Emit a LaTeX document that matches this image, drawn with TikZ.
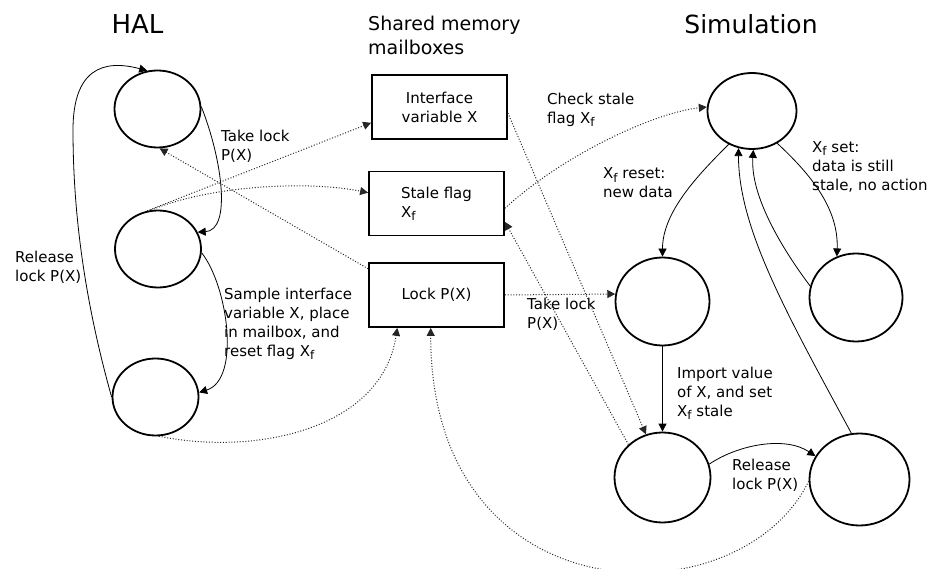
\documentclass[tikz,border=0pt]{standalone}
\usepackage{fontspec}
\setmainfont{DejaVu Sans}
\usetikzlibrary{arrows.meta,shapes.geometric}

\newcommand{\flagsub}{\raisebox{-0.4ex}{\fontsize{12}{12}\selectfont f}}

\begin{document}
\begin{tikzpicture}[x=1pt,y=-1pt,
    state/.style={draw,ellipse,line width=1.8pt,inner sep=0pt},
    mailbox/.style={draw,line width=1.8pt,minimum width=135pt,minimum height=64pt,inner sep=0pt,align=center,font=\fontsize{15}{19}\selectfont},
    note/.style={anchor=west,align=left,inner sep=0pt,font=\fontsize{15}{19}\selectfont},
    heading/.style={anchor=base,inner sep=0pt,font=\fontsize{26}{30}\selectfont},
    flow/.style={-{Triangle[length=8pt,width=8pt]},line width=0.8pt},
    access/.style={-{Triangle[length=8pt,width=8pt]},line width=1pt,black!85,dash pattern=on 1pt off 1.8pt}]
    \useasboundingbox (0,0) rectangle (932,569);

    % headings
    \node[heading] (halhead) at (137.5,34) {HAL};
    \node[heading,font=\fontsize{25}{30}\selectfont] (simhead) at (751,33.5) {Simulation};
    \node[note,font=\fontsize{19}{23.5}\selectfont] (shmhead) at (368,35.5) {Shared memory\\mailboxes};

    % HAL states
    \foreach \n/\x/\y in {1/157.5/109, 2/158/249, 3/155.5/397}
        \node[state,minimum width=86pt,minimum height=77pt] (hal\n) at (\x,\y) {};

    % mailboxes
    \node[mailbox] (boxvar) at (439.5,107) {Interface\\variable X};
    \node[mailbox,align=left] (boxflag) at (436.5,203.5) {Stale flag\\X\flagsub};
    \node[mailbox] (boxlock) at (436.5,295) {Lock P(X)};

    % simulation states
    \node[state,minimum width=89pt,minimum height=76pt] (sim1) at (752,111) {};
    \node[state,minimum width=94pt,minimum height=88pt] (sim2) at (662.5,301.5) {};
    \node[state,minimum width=93pt,minimum height=88pt] (sim3) at (856,297.5) {};
    \node[state,minimum width=96pt,minimum height=90pt] (sim4) at (662.5,477.5) {};
    \node[state,minimum width=100pt,minimum height=92pt] (sim5) at (859.5,479.5) {};

    % labels
    \node[note] (takelockhal) at (221,146.5) {Take lock\\P(X)};
    \node[note] (releasehal) at (15,267.5) {Release\\lock P(X)};
    \node[note] (samplehal) at (224,324) {Sample interface\\variable X, place\\in mailbox, and\\reset flag X\flagsub};
    \node[note] (checkflag) at (547,110) {Check stale\\flag X\flagsub};
    \node[note] (flagreset) at (603,183) {X\flagsub{} reset:\\new data};
    \node[note] (flagset) at (812,166.5) {X\flagsub{} set:\\data is still\\stale, no action};
    \node[note] (takelocksim) at (527,314) {Take lock\\P(X)};
    \node[note] (importval) at (677,393) {Import value\\of X, and set\\X\flagsub{} stale};
    \node[note] (releasesim) at (732,475) {Release\\lock P(X)};

    % HAL cycle
    \draw[flow] (hal1.3) .. controls +(21,53) and +(34,-2) .. (hal2.23);
    \draw[flow] (hal2.-5) .. controls +(26,33) and +(42,-13) .. (hal3.6);
    \draw[flow] (hal3.west) .. controls +(-28,-100) and +(0,80) .. (73,130)
        .. controls +(0,-60) and +(-45,-12) .. (hal1.105);

    % HAL <-> mailboxes
    \draw[access] (hal2.106) -- (boxvar.193);
    \draw[access] (hal2.100) .. controls +(60,-25) and +(-60,-12) .. (boxflag.171);
    \draw[access] (boxlock.159) -- (hal1.-87);
    \draw[access] (hal3.-85) .. controls +(100,20) and +(-15,100) .. (boxlock.-140);

    % simulation <-> mailboxes
    \draw[access] (boxflag.-4) .. controls +(60,-55) and +(-50,5) .. (sim1.175);
    \draw[access] (boxvar.-5) -- (sim4.111);
    \draw[access] (sim4.136) -- (boxflag.-15);
    \draw[access] (boxlock.east) -- (sim2.171);
    \draw[access] (sim5.182) .. controls +(-68,140) and +(0,293) .. (boxlock.-100);

    % simulation cycle
    \draw[flow] (sim1.235) .. controls +(-30,30) and +(0,-45) .. (sim2.north);
    \draw[flow] (sim1.-52) .. controls +(30,28) and +(2,-50) .. (sim3.115);
    \draw[flow] (sim3.166) .. controls +(-30,-40) and +(-3,45) .. (sim1.-88);
    \draw[flow] (sim5.100) .. controls +(-65,-120) and +(0,80) .. (sim1.-110);
    \draw[flow] (sim2.south) -- (sim4.north);
    \draw[flow] (sim4.16) .. controls +(30,-20) and +(-30,-20) .. (sim5.152);
\end{tikzpicture}
\end{document}
